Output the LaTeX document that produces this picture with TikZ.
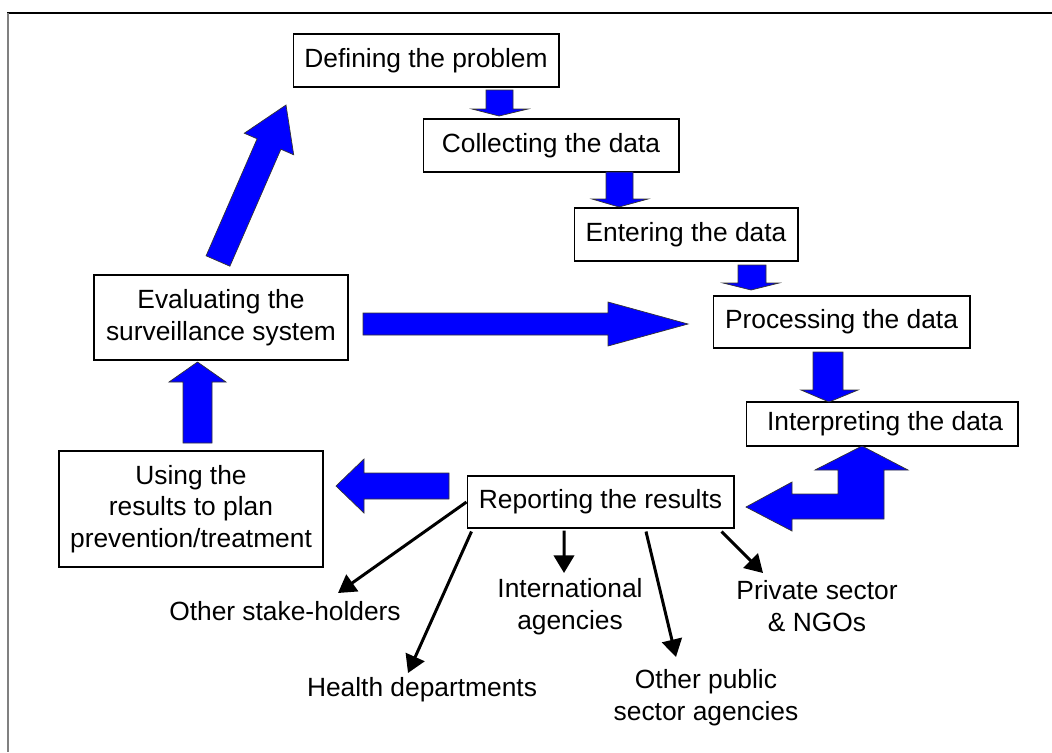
\documentclass[tikz,border=0pt]{standalone}
\usepackage{fontspec}
\setmainfont{Liberation Sans}
\usetikzlibrary{arrows.meta}

\tikzset{
  stepbox/.style={draw, line width=0.6pt, fill=white, inner sep=2pt, align=center, font=\fontsize{15}{18.1}\selectfont},
  lbl/.style={inner sep=0pt, align=center, font=\fontsize{15}{18.1}\selectfont},
  fat/.style={fill=blue, draw=black!80, line width=0.4pt},
  conn/.style={line width=1.7pt, -{Triangle[length=10pt,width=11.5pt]}},
}

\begin{document}
\begin{tikzpicture}[x=0.02cm, y=-0.02cm]
        \useasboundingbox (0,0) rectangle (1052,752);
        % frame
        \draw[line width=1.1pt] (7,13) -- (1052,13);
        \draw[line width=1.1pt, gray] (8,13) -- (8,752);
        % steps of the cycle
        \node[stepbox, minimum width=5.32cm, minimum height=1.06cm] (def) at (426,60.5) {Defining the problem};
        \node[stepbox, minimum width=5.12cm, minimum height=1.06cm] (col) at (551,145.5) {Collecting the data};
        \node[stepbox, minimum width=4.48cm, minimum height=1.06cm] (ent) at (686,234.5) {Entering the data};
        \node[stepbox, minimum width=5.14cm, minimum height=1.04cm] (proc) at (841.5,322) {Processing the data};
        \node[stepbox, minimum width=5.44cm, minimum height=0.88cm] (interp) at (882,424) {\hspace{0.12cm}Interpreting the data};
        \node[stepbox, minimum width=5.34cm, minimum height=1.04cm] (rep) at (600.5,502) {Reporting the results};
        \node[stepbox, minimum width=5.28cm, minimum height=2.32cm] (use) at (191,509) {Using the\\results to plan\\prevention/treatment};
        \node[stepbox, minimum width=5.08cm, minimum height=1.7cm] (eval) at (221,317.5) {Evaluating the\\surveillance system};
        % block arrows
        \draw[fat] (486,90) -- (513,90) -- (513,109) -- (528,109) -- (499,116) -- (472,109) -- (486,109) -- cycle;
        \draw[fat] (606,172) -- (633,172) -- (633,199) -- (648,199) -- (619,207) -- (592,199) -- (606,199) -- cycle;
        \draw[fat] (738,265) -- (766,265) -- (766,283) -- (779,283) -- (751,290) -- (723,283) -- (738,283) -- cycle;
        \draw[fat] (813,352) -- (843,352) -- (843,390) -- (858,390) -- (829,402) -- (801,390) -- (813,390) -- cycle;
        \draw[fat] (363,313) -- (608,313) -- (608,302) -- (688,324) -- (608,346) -- (608,335) -- (363,335) -- cycle;
        \draw[fat] (183,443) -- (183,382) -- (169,382) -- (197.5,362) -- (226,382) -- (212,382) -- (212,443) -- cycle;
        \draw[fat] (449,473) -- (364,473) -- (364,459) -- (336,486) -- (364,513) -- (364,499) -- (449,499) -- cycle;
        \draw[fat] (746,507) -- (792,482) -- (792,494) -- (838,494) -- (838,470) -- (815,470) -- (862,446)
                -- (908,470) -- (884,470) -- (884,519) -- (792,519) -- (792,531) -- cycle;
        \draw[fat] (206.1,255.8) -- (257.1,138.8) -- (244.3,133.2) -- (286,105) -- (293.7,154.8)
                -- (280.9,149.2) -- (229.9,266.2) -- cycle;
        % receivers of the report
        \node[lbl] (stake) at (285,611) {Other stake-holders};
        \node[lbl] (health) at (422,690) {Health departments};
        \node[lbl] (intl) at (570,607) {International\\agencies};
        \node[lbl] (public) at (706,698) {Other public\\sector agencies};
        \node[lbl] (private) at (817,606) {Private sector\\\& NGOs};
        \coordinate (stake-in) at (338,593);
        \coordinate (health-in) at (408,673);
        \coordinate (intl-in) at (564,573);
        \coordinate (public-in) at (676,657);
        \coordinate (private-in) at (763,573);
        \draw[conn] (rep.west) -- (stake-in);
        \draw[conn] ([xshift=0.1cm,yshift=-0.06cm]rep.south west) -- (health-in);
        \draw[conn] ([xshift=-0.73cm,yshift=-0.04cm]rep.south) -- (intl-in);
        \draw[conn] ([xshift=0.91cm,yshift=-0.06cm]rep.south) -- (public-in);
        \draw[conn] ([xshift=-0.26cm,yshift=-0.06cm]rep.south east) -- (private-in);
\end{tikzpicture}
\end{document}
